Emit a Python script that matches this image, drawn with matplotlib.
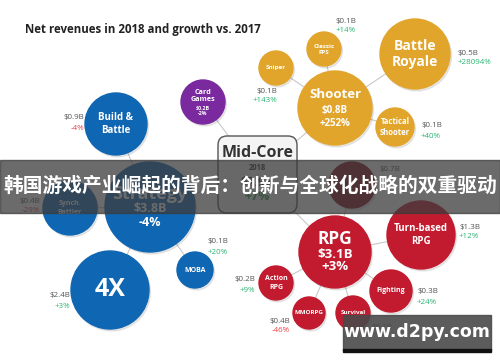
import matplotlib
matplotlib.use('Agg')
import matplotlib.pyplot as plt
from matplotlib.patches import Circle, FancyBboxPatch, Rectangle

plt.rcParams['font.family'] = ['Open Sans', 'DejaVu Sans']

# ---------- DATA ----------
title = 'Net revenues in 2018 and growth vs. 2017'
banner = '韩国游戏产业崛起的背后：创新与全球化战略的双重驱动'
watermark = 'www.d2py.com'

hub_name = 'Mid-Core'
hub_year = '2018'
hub_revenue = '$7.9B'
hub_growth = '+7%'

# category bubbles
cat_names = ['Strategy', 'Shooter', 'RPG', 'Card\nGames']
cat_revenue = ['$3.8B', '$0.8B', '$3.1B', '$0.2B']
cat_growth = ['-4%', '+252%', '+3%', '-2%']
cat_colors = ['#0f66b3', '#e2a52c', '#c21a2e', '#7a2a9e']

# sub-genre bubbles: name, parent, revenue, growth
sub_names = ['Build &\nBattle', 'Synch.\nBattler', '4X', 'MOBA',
             'Sniper', 'Classic\nFPS', 'Battle\nRoyale', 'Tactical\nShooter',
             '', 'Turn-based\nRPG', 'Action\nRPG', 'Fighting', 'MMORPG', 'Survival']
sub_parent = [0, 0, 0, 0, 1, 1, 1, 1, 2, 2, 2, 2, 2, 2]
sub_revenue = ['$0.9B', '$0.4B', '$2.4B', '$0.1B',
               '$0.1B', '$0.1B', '$0.5B', '$0.1B',
               '$0.7B', '$1.3B', '$0.2B', '$0.3B', '$0.4B', '$0.1B']
sub_growth = ['-4%', '-29%', '+3%', '+20%',
              '+143%', '+14%', '+28094%', '+40%',
              '', '+12%', '+9%', '+24%', '-46%', '']

# ---------- LAYOUT (pixels) ----------
hub_box = (218, 136, 79, 77)
cat_xy = [(150, 207), (335, 108), (335, 252), (203, 102)]
cat_r = [45, 37, 36, 22]
cat_fs = [(13, 9, 9), (9.5, 7, 7), (12.5, 9.5, 9.5), (5.2, 3.8, 3.8)]
sub_xy = [(116, 124), (70, 208), (110, 290), (195, 270),
          (276, 68), (324, 49), (415, 54), (395, 127),
          (352, 185), (421, 235), (276, 283), (391, 291), (309, 313), (353, 313)]
sub_r = [31, 27, 39, 18, 17, 17, 35, 19, 23, 34, 17, 21, 16, 17]
sub_fs = [7, 5, 18, 5, 4.5, 4.5, 10, 5.5, 5, 7, 5, 5, 4.5, 4.5]
# label positions (x, top y, align)
lab_xy = [(84, 118, 'right'), (40, 201, 'right'), (70, 296, 'right'), (208, 242, 'left'),
          (277, 91, 'right'), (336, 21, 'left'), (458, 53, 'left'), (421, 126, 'left'),
          (379, 169, 'left'), (459, 227, 'left'), (255, 280, 'right'), (417, 292, 'left'),
          (290, 321, 'right'), (372, 327, 'left')]

GREEN = '#2bb673'
RED = '#e8414a'
GRAY = '#555555'

fig = plt.figure(figsize=(5.0, 3.62), dpi=100)
ax = fig.add_axes([0, 0, 1, 1])
ax.set_xlim(0, 500)
ax.set_ylim(362, 0)
ax.axis('off')

hub_c = (hub_box[0] + hub_box[2] / 2, hub_box[1] + hub_box[3] / 2)
line_kw = dict(color='#c8c8c8', lw=0.8, zorder=1)

# connectors
for (x, y) in cat_xy:
    ax.plot([hub_c[0], x], [hub_c[1], y], **line_kw)
for i, (x, y) in enumerate(sub_xy):
    px, py = cat_xy[sub_parent[i]]
    ax.plot([px, x], [py, y], **line_kw)


def bubble(x, y, r, color, z=3):
    ax.add_patch(Circle((x + 1.5, y + 2), r, color='#000000', alpha=0.08, zorder=z - 1))
    ax.add_patch(Circle((x, y), r, color=color, zorder=z))


for i, (x, y) in enumerate(cat_xy):
    bubble(x, y, cat_r[i], cat_colors[i])
    f1, f2, f3 = cat_fs[i]
    if i == 3:
        ax.text(x, y - 6, cat_names[i], ha='center', va='center', color='white',
                fontsize=f1, fontweight='bold', zorder=5, linespacing=1.15)
        ax.text(x, y + 6, cat_revenue[i], ha='center', va='center', color='white',
                fontsize=f2, fontweight='bold', zorder=5)
        ax.text(x, y + 11.5, cat_growth[i], ha='center', va='center', color='white',
                fontsize=f3, fontweight='bold', zorder=5)
    else:
        ax.text(x, y - 13, cat_names[i], ha='center', va='center', color='white',
                fontsize=f1, fontweight='bold', zorder=5)
        ax.text(x, y + 2, cat_revenue[i], ha='center', va='center', color='white',
                fontsize=f2, fontweight='bold', zorder=5)
        ax.text(x, y + 15, cat_growth[i], ha='center', va='center', color='white',
                fontsize=f3, fontweight='bold', zorder=5)

for i, (x, y) in enumerate(sub_xy):
    color = cat_colors[sub_parent[i]]
    if i == 8:
        color = '#8a0f1c'
    bubble(x, y, sub_r[i], color)
    ax.text(x, y, sub_names[i], ha='center', va='center', color='white',
            fontsize=sub_fs[i], fontweight='bold', zorder=5, linespacing=1.25)
    lx, ly, al = lab_xy[i]
    ax.text(lx, ly, sub_revenue[i], ha=al, va='center', color=GRAY, fontsize=5.8, zorder=5)
    g = sub_growth[i]
    if g:
        ax.text(lx, ly + 10, g, ha=al, va='center', color=GREEN if g.startswith('+') else RED,
                fontsize=5.8, zorder=5)

# hub box
bx, by, bw, bh = hub_box
ax.add_patch(FancyBboxPatch((bx + 4, by + 4), bw - 8, bh - 8,
                            boxstyle='round,pad=4,rounding_size=9',
                            fc='#f4f4f4', ec='#555555', lw=1.0, zorder=4))
ax.text(hub_c[0], by + 17, hub_name, ha='center', va='center', color='#333333',
        fontsize=11.5, fontweight='bold', zorder=5)
ax.text(hub_c[0], by + 32, hub_year, ha='center', va='center', color='#333333',
        fontsize=5.5, fontweight='bold', zorder=5)
ax.text(hub_c[0], by + 46, hub_revenue, ha='center', va='center', color='#333333',
        fontsize=9, fontweight='bold', zorder=5)
ax.text(hub_c[0], by + 61, hub_growth, ha='center', va='center', color='#2a9a4a',
        fontsize=9, fontweight='bold', zorder=5)

# title
ax.text(25, 29, title, ha='left', va='center', color='#222222',
        fontsize=8.3, fontweight='bold', zorder=5)

# banner overlay
ax.add_patch(Rectangle((0, 160), 500, 53, color='#3c3c3c', alpha=0.76, zorder=10))
ax.text(250, 186, banner, ha='center', va='center', color='white', fontsize=14.2,
        fontweight='bold', family=['Noto Sans CJK SC', 'DejaVu Sans'], zorder=11)

# watermark
ax.add_patch(Rectangle((343, 315), 148, 35, color='#4a4a4a', alpha=0.9, zorder=10))
ax.add_patch(Rectangle((343, 349), 148, 3, color='#111111', zorder=10))
ax.text(417, 332, watermark, ha='center', va='center', color='white', fontsize=12.5,
        fontweight='bold', family=['DejaVu Sans'], zorder=11)

fig.savefig('out.png', dpi=100)
